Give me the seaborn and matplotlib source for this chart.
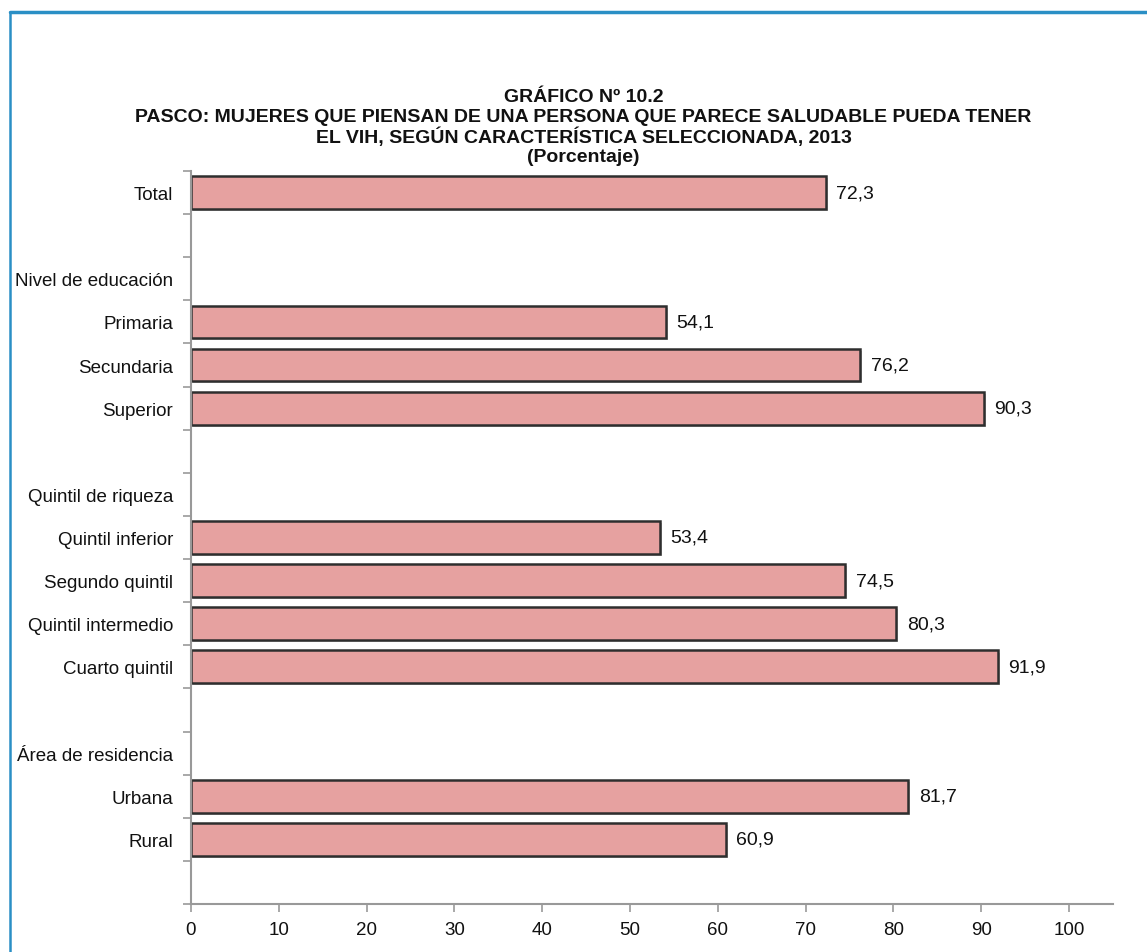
import matplotlib
matplotlib.use("Agg")
import matplotlib.pyplot as plt
import matplotlib.patheffects as pe
from matplotlib.lines import Line2D
import seaborn as sns
import pandas as pd
import numpy as np

# ---- data ----
categories = ["Total", "_b1", "Nivel de educación", "Primaria", "Secundaria", "Superior", "_b2",
              "Quintil de riqueza", "Quintil inferior", "Segundo quintil", "Quintil intermedio",
              "Cuarto quintil", "_b3", "Área de residencia", "Urbana", "Rural", "_b4"]
tick_labels = ["Total", "", "Nivel de educación", "Primaria", "Secundaria", "Superior", "",
               "Quintil de riqueza", "Quintil inferior", "Segundo quintil", "Quintil intermedio",
               "Cuarto quintil", "", "Área de residencia", "Urbana", "Rural", ""]
values = [72.3, np.nan, np.nan, 54.1, 76.2, 90.3, np.nan,
          np.nan, 53.4, 74.5, 80.3, 91.9, np.nan, np.nan, 81.7, 60.9, np.nan]
x_ticks = [0, 10, 20, 30, 40, 50, 60, 70, 80, 90, 100]
title_lines = ["GRÁFICO Nº 10.2",
               "PASCO: MUJERES QUE PIENSAN DE UNA PERSONA QUE PARECE SALUDABLE PUEDA TENER",
               "EL VIH, SEGÚN CARACTERÍSTICA SELECCIONADA, 2013",
               "(Porcentaje)"]

df = pd.DataFrame({"cat": categories, "val": values})

sns.set_theme(style="white")
plt.rcParams['font.family'] = ['Liberation Sans Narrow', 'Liberation Sans', 'DejaVu Sans']

W, H = 1147, 953
fig = plt.figure(figsize=(W / 100, H / 100), dpi=100)
ax = fig.add_axes([191 / W, 1 - 905 / H, (1113 - 191) / W, (905 - 172) / H])

sns.barplot(data=df, x="val", y="cat", order=categories, orient="h", ax=ax,
            color="#E6A1A0", edgecolor="#2e2e2e", linewidth=1.8, width=0.76,
            saturation=1, errorbar=None)

for p in ax.patches:
    p.set_path_effects([pe.SimplePatchShadow(offset=(1.5, -1.5), shadow_rgbFace="#999999", alpha=0.5),
                        pe.Normal()])

# value labels
for i, v in enumerate(values):
    if not np.isnan(v):
        ax.text(v + 1.2, i, f"{v:.1f}".replace(".", ","), va="center", ha="left",
                fontsize=14, color="#111111")

ax.set_xlim(0, 105)
ax.set_ylim(len(categories) - 0.5, -0.5)
ax.set_xticks(x_ticks)
ax.set_xticklabels([str(t) for t in x_ticks], fontsize=13.5, color="#111111")
ax.set_yticks(range(len(categories)))
ax.set_yticklabels(tick_labels, fontsize=13.5, color="#111111")
ax.set_yticks(np.arange(-0.5, len(categories), 1.0), minor=True)
ax.tick_params(axis="y", which="major", length=0, pad=13)
ax.tick_params(axis="y", which="minor", length=6, width=1.2, color="#999999", left=True)
ax.tick_params(axis="x", which="major", length=6, width=1.2, color="#999999", bottom=True, pad=6)
ax.set_xlabel("")
ax.set_ylabel("")
for s in ["top", "right"]:
    ax.spines[s].set_visible(False)
for s in ["left", "bottom"]:
    ax.spines[s].set_color("#999999")
    ax.spines[s].set_linewidth(1.5)

# title
ys = [97, 117, 137, 157]
for t, y in zip(title_lines, ys):
    fig.text(0.5 + 10 / W, 1 - y / H, t, ha="center", va="center", fontsize=14,
             fontweight="bold", color="#111111")

# blue frame
fig.add_artist(Line2D([10 / W, 1.0], [1 - 13 / H, 1 - 13 / H], color="#2A8FC5", lw=2.5,
                      transform=fig.transFigure))
fig.add_artist(Line2D([10 / W, 10 / W], [1 - 13 / H, 0], color="#2A8FC5", lw=1.8,
                      transform=fig.transFigure))

fig.savefig("out.png", dpi=100, facecolor="white")
